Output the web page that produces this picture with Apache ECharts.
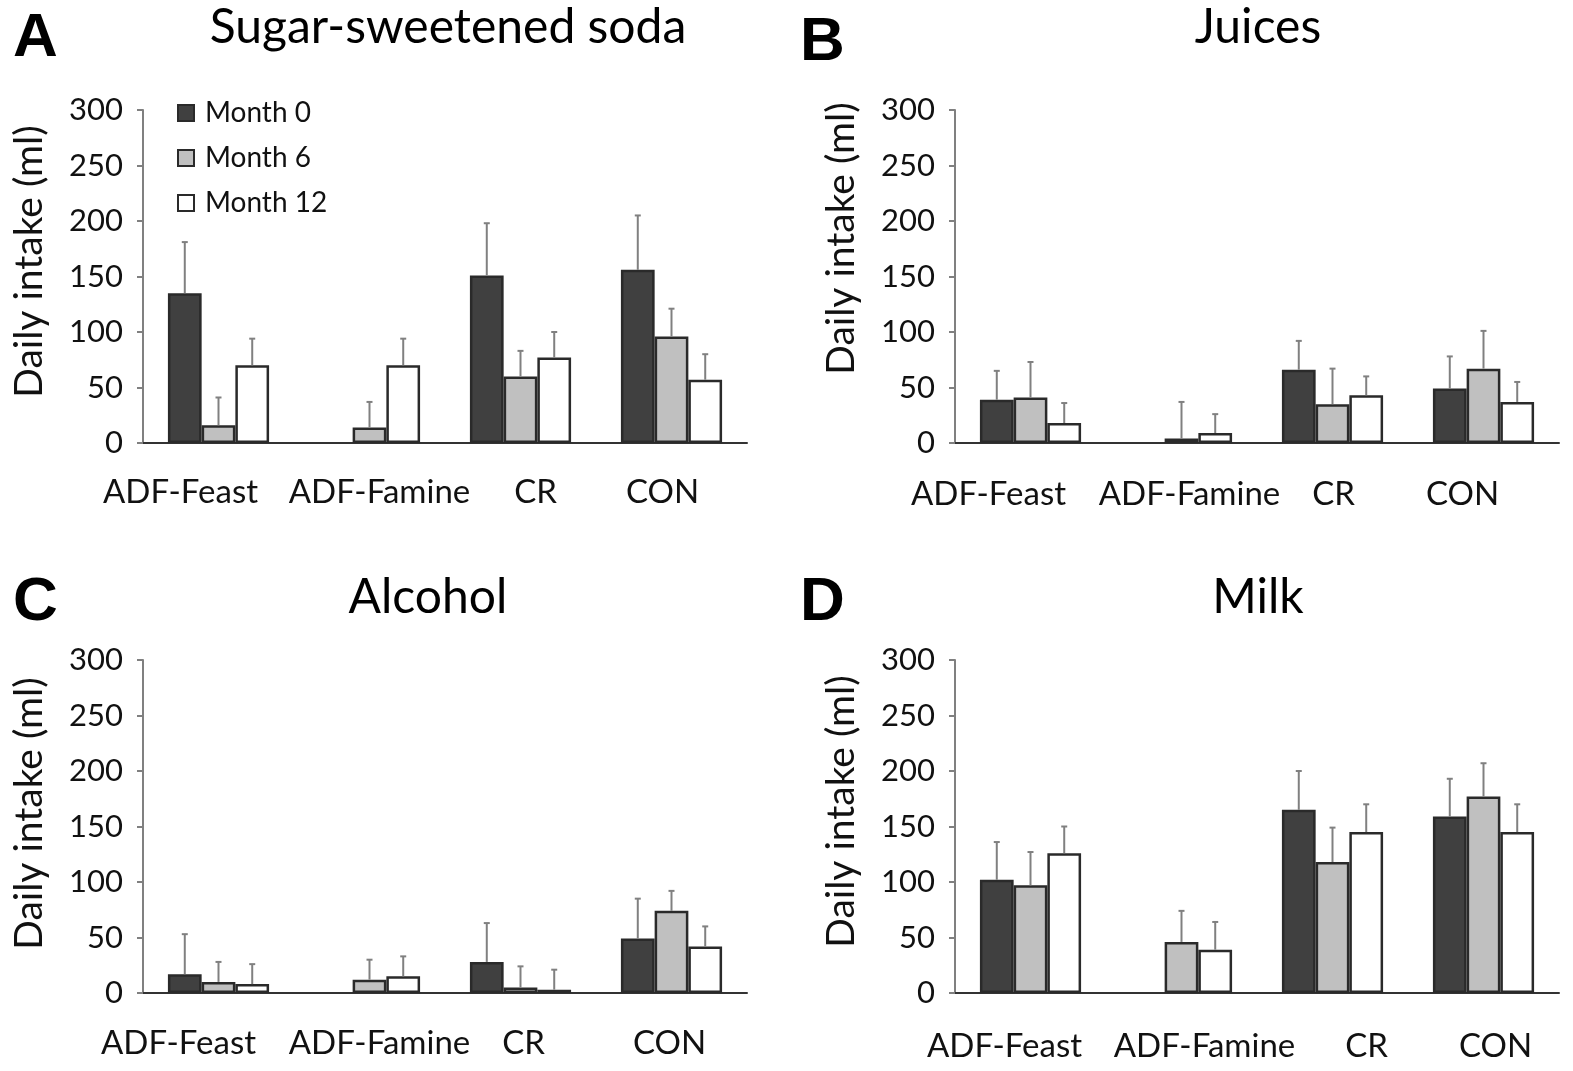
<!DOCTYPE html>
<html>
<head>
<meta charset="utf-8">
<script src="https://cdn.jsdelivr.net/npm/echarts@6/dist/echarts.min.js"></script>
<style>
  html, body { margin: 0; padding: 0; background: #fff; }
  #main { width: 1573px; height: 1071px; }
</style>
</head>
<body>
<div id="main"></div>
<script>
  // data (ml/day), '-' = no bar
  var categories = ['ADF-Feast', 'ADF-Famine', 'CR', 'CON'];
  var months = ['Month 0', 'Month 6', 'Month 12'];
  var yTicks = [0, 50, 100, 150, 200, 250, 300];

  var panelTitles = ['Sugar-sweetened soda', 'Juices', 'Alcohol', 'Milk'];
  var panelLetters = ['A', 'B', 'C', 'D'];

  // mean values, one array per month, per panel
  var sodaM0 = [135, '-', 151, 156];
  var sodaM6 = [16, 14, 60, 96];
  var sodaM12 = [70, 70, 77, 57];
  var sodaErr0 = [181, '-', 198, 205];
  var sodaErr6 = [41, 37, 83, 121];
  var sodaErr12 = [94, 94, 100, 80];

  var juiceM0 = [39, '-', 66, 49];
  var juiceM6 = [41, 4, 35, 67];
  var juiceM12 = [18, 9, 43, 37];
  var juiceErr0 = [65, '-', 92, 78];
  var juiceErr6 = [73, 37, 67, 101];
  var juiceErr12 = [36, 26, 60, 55];

  var alcoM0 = [17, '-', 28, 49];
  var alcoM6 = [10, 12, 5, 74];
  var alcoM12 = [8, 15, 3, 42];
  var alcoErr0 = [53, '-', 63, 85];
  var alcoErr6 = [28, 30, 24, 92];
  var alcoErr12 = [26, 33, 21, 60];

  var milkM0 = [102, '-', 165, 159];
  var milkM6 = [97, 46, 118, 177];
  var milkM12 = [126, 39, 145, 145];
  var milkErr0 = [136, '-', 200, 193];
  var milkErr6 = [127, 74, 149, 207];
  var milkErr12 = [150, 64, 170, 170];

  var panels = [
    { means: [sodaM0, sodaM6, sodaM12], errs: [sodaErr0, sodaErr6, sodaErr12] },
    { means: [juiceM0, juiceM6, juiceM12], errs: [juiceErr0, juiceErr6, juiceErr12] },
    { means: [alcoM0, alcoM6, alcoM12], errs: [alcoErr0, alcoErr6, alcoErr12] },
    { means: [milkM0, milkM6, milkM12], errs: [milkErr0, milkErr6, milkErr12] }
  ];

  // layout
  var FONT = 'Lato';
  var gridPos = [
    { left: 143, top: 110 }, { left: 955, top: 110 },
    { left: 143, top: 660 }, { left: 955, top: 660 }
  ];
  var GW = 604, GH = 333;
  var titlePos = [[448, 4], [1258, 4], [428, 574], [1258, 574]];
  var letterPos = [[13, 8], [800, 12], [13, 572], [800, 572]];
  // the category labels are not centred under the bars in the original
  var labelShift = [
    [-38, 10, 15, -9],
    [-42, 8, 1, -21],
    [-40, 10, 3, -2],
    [-26, 23, 34, 12]
  ];
  var labelMargin = [33, 35, 34, 37];
  // y-axis names sit a bit above the middle of the axis
  var nameLift = [15, 38, 13, 15];
  var barColors = ['#404040', '#c0c0c0', '#ffffff'];
  var GAP = 0.33;

  var myChart = echarts.init(document.getElementById('main'));

  function errorRender(k) {
    return function (params, api) {
      var x = api.value(0);
      var base = api.coord([x, api.value(1)]);
      var top = api.coord([x, api.value(2)]);
      var band = api.size([1, 0])[0];
      var bw = band * (1 - GAP) / 3;
      var cx = base[0] + (k - 1) * bw;
      var st = { stroke: '#808080', lineWidth: 2 };
      return {
        type: 'group',
        children: [
          { type: 'line', shape: { x1: cx, y1: base[1], x2: cx, y2: top[1] }, style: st },
          { type: 'line', shape: { x1: cx - 3, y1: top[1], x2: cx + 3, y2: top[1] }, style: st }
        ]
      };
    };
  }

  var grids = [], xAxes = [], yAxes = [], series = [], graphics = [];

  panels.forEach(function (p, i) {
    grids.push({ left: gridPos[i].left, top: gridPos[i].top, width: GW, height: GH });

    var rich = {};
    labelShift[i].forEach(function (s, j) {
      rich['c' + j] = {
        fontFamily: FONT, fontSize: 33, color: '#111',
        padding: s < 0 ? [0, -2 * s, 0, 0] : [0, 0, 0, 2 * s]
      };
    });
    xAxes.push({
      type: 'category', gridIndex: i, data: categories,
      axisLine: { lineStyle: { color: '#333', width: 2 } },
      axisTick: { show: false },
      axisLabel: {
        margin: labelMargin[i], interval: 0,
        formatter: function (v, idx) { return '{c' + idx + '|' + v + '}'; },
        rich: rich
      }
    });
    yAxes.push({
      type: 'value', gridIndex: i, min: 0, max: 300, interval: 50,
      name: 'Daily intake (ml)', nameLocation: 'middle', nameGap: 94,
      nameTextStyle: {
        fontFamily: FONT, fontSize: 39, color: '#111',
        padding: [0, 0, 0, 2 * nameLift[i]]
      },
      axisLine: { show: true, lineStyle: { color: '#808080', width: 2 } },
      axisTick: { show: true, length: 6, lineStyle: { color: '#808080', width: 2 } },
      axisLabel: {
        margin: 20, fontFamily: FONT, fontSize: 31, color: '#111',
        formatter: function (v) { return yTicks.indexOf(v) >= 0 ? String(v) : ''; }
      },
      splitLine: { show: false }
    });

    for (var k = 0; k < 3; k++) {
      series.push({
        name: months[k], type: 'bar', xAxisIndex: i, yAxisIndex: i,
        data: p.means[k], barGap: '0%', barCategoryGap: (GAP * 100) + '%',
        itemStyle: { color: barColors[k], borderColor: '#2a2a2a', borderWidth: 2.5 },
        emphasis: { disabled: true }
      });
    }
    for (var k2 = 0; k2 < 3; k2++) {
      var ed = [];
      p.means[k2].forEach(function (v, j) {
        if (v !== '-') ed.push([j, v, p.errs[k2][j]]);
      });
      series.push({
        type: 'custom', xAxisIndex: i, yAxisIndex: i, z: 5,
        renderItem: errorRender(k2), data: ed, silent: true
      });
    }

    graphics.push({
      type: 'text', x: letterPos[i][0], y: letterPos[i][1],
      style: { text: panelLetters[i], font: 'bold 62px "Liberation Sans"', fill: '#000' }
    });
    graphics.push({
      type: 'text', x: titlePos[i][0], y: titlePos[i][1],
      style: {
        text: panelTitles[i], font: '48px ' + FONT, fill: '#000',
        textAlign: 'center', textVerticalAlign: 'top'
      }
    });
  });

  var option = {
    animation: false,
    textStyle: { fontFamily: FONT },
    grid: grids,
    xAxis: xAxes,
    yAxis: yAxes,
    legend: {
      data: months, orient: 'vertical', left: 172, top: 94,
      icon: 'rect', itemWidth: 16, itemHeight: 16, itemGap: 17,
      textStyle: { fontFamily: FONT, fontSize: 28, color: '#111', padding: [0, 0, 0, 6] }
    },
    graphic: graphics,
    series: series
  };

  myChart.setOption(option);
</script>
</body>
</html>
